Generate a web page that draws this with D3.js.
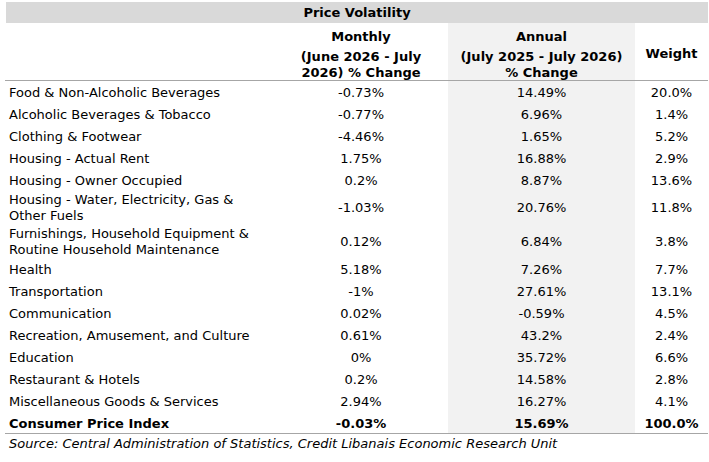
<!DOCTYPE html>
<html>
<head>
<meta charset="utf-8">
<script src="https://cdn.jsdelivr.net/npm/d3@7"></script>
<style>
  body { margin: 0; background: #fff; }
  text { font-family: "DejaVu Sans", Verdana, sans-serif; font-size: 13px; fill: #000; }
</style>
</head>
<body>
<div class="canvas"></div>
<script>
// table data
const title = 'Price Volatility';
const categories = [
  'Food & Non-Alcoholic Beverages',
  'Alcoholic Beverages & Tobacco',
  'Clothing & Footwear',
  'Housing - Actual Rent',
  'Housing - Owner Occupied',
  'Housing - Water, Electricity, Gas & Other Fuels',
  'Furnishings, Household Equipment & Routine Household Maintenance',
  'Health',
  'Transportation',
  'Communication',
  'Recreation, Amusement, and Culture',
  'Education',
  'Restaurant & Hotels',
  'Miscellaneous Goods & Services',
  'Consumer Price Index'
];
const monthly = [-0.73, -0.77, -4.46, 1.75, 0.2, -1.03, 0.12, 5.18, -1, 0.02, 0.61, 0, 0.2, 2.94, -0.03];
const annual = [14.49, 6.96, 1.65, 16.88, 8.87, 20.76, 6.84, 7.26, 27.61, -0.59, 43.2, 35.72, 14.58, 16.27, 15.69];
const weights = [20.0, 1.4, 5.2, 2.9, 13.6, 11.8, 3.8, 7.7, 13.1, 4.5, 2.4, 6.6, 2.8, 4.1, 100.0];
const headers = [
  ['Monthly', '(June 2026 - July', '2026) % Change'],
  ['Annual', '(July 2025 - July 2026)', '% Change'],
  ['Weight']
];
const source = 'Source: Central Administration of Statistics, Credit Libanais Economic Research Unit';

const width = 709, height = 462;

const svg = d3.select('.canvas')
  .append('svg')
  .attr('width', width)
  .attr('height', height);

// column edges: label, monthly, annual, weight
const colEdges = [6, 274, 448, 635, 708];
const colMid = i => (colEdges[i + 1] + colEdges[i + 2]) / 2;

const titleTop = 2, titleBottom = 23, headerBottom = 80.5;
const rowH = 22, lineH = 16, extraLine = 11.5, labelX = 9, labelMax = 262;

// wrap label text to the label column width
const measure = svg.append('text').attr('visibility', 'hidden');
const wrap = (str) => {
  const words = str.split(' ');
  const lines = [];
  let cur = '';
  words.forEach(w => {
    const test = cur ? cur + ' ' + w : w;
    measure.text(test);
    if (cur && measure.node().getComputedTextLength() > labelMax - labelX) {
      lines.push(cur);
      cur = w;
    } else {
      cur = test;
    }
  });
  lines.push(cur);
  return lines;
};

const rows = categories.map((c, i) => ({
  lines: wrap(c),
  monthly: monthly[i],
  annual: annual[i],
  weight: weights[i],
  total: i === categories.length - 1
}));
measure.remove();

// row positions from line counts
let yPos = headerBottom + 0.5;
rows.forEach(r => {
  r.h = rowH + (r.lines.length - 1) * extraLine;
  r.y = yPos;
  yPos += r.h;
});
const tableBottom = Math.round(yPos) - 0.5;

// backgrounds
svg.append('rect')
  .attr('x', colEdges[0]).attr('y', titleTop)
  .attr('width', colEdges[4] - colEdges[0]).attr('height', titleBottom - titleTop)
  .attr('fill', '#d9d9d9');

svg.append('rect')
  .attr('x', colEdges[2]).attr('y', titleBottom)
  .attr('width', colEdges[3] - colEdges[2]).attr('height', tableBottom - titleBottom)
  .attr('fill', '#f2f2f2');

// title
svg.append('text')
  .attr('x', (colEdges[0] + colEdges[4]) / 2)
  .attr('y', (titleTop + titleBottom) / 2)
  .attr('dy', '0.36em')
  .attr('text-anchor', 'middle')
  .attr('font-weight', 'bold')
  .text(title);

// headers
const headerLineY = [36.5, 56.5, 72.5];
headers.forEach((h, i) => {
  const g = svg.append('text')
    .attr('text-anchor', 'middle')
    .attr('font-weight', 'bold');
  if (h.length === 1) {
    g.attr('x', colMid(i)).attr('y', 53).attr('dy', '0.36em').text(h[0]);
  } else {
    g.selectAll('tspan').data(h).enter().append('tspan')
      .attr('x', colMid(i))
      .attr('y', (d, j) => headerLineY[j])
      .attr('dy', '0.36em')
      .text(d => d);
  }
});

// rule lines
[headerBottom, tableBottom].forEach(y => {
  svg.append('line')
    .attr('x1', 5).attr('x2', colEdges[4])
    .attr('y1', y).attr('y2', y)
    .attr('stroke', '#a6a6a6')
    .attr('stroke-width', 1);
});

// body rows
const rowG = svg.selectAll('g.row').data(rows).enter()
  .append('g')
  .attr('class', 'row')
  .attr('transform', d => `translate(0, ${d.y + d.h / 2})`)
  .attr('font-weight', d => d.total ? 'bold' : 'normal');

rowG.append('text')
  .attr('x', labelX)
  .selectAll('tspan')
  .data(d => d.lines.map((l, j) => ({ l, off: (j - (d.lines.length - 1) / 2) * lineH })))
  .enter().append('tspan')
  .attr('x', labelX)
  .attr('y', d => d.off)
  .attr('dy', '0.36em')
  .text(d => d.l);

const cells = [d => d.monthly + '%', d => d.annual + '%', d => d.weight.toFixed(1) + '%'];
cells.forEach((f, i) => {
  rowG.append('text')
    .attr('x', colMid(i))
    .attr('dy', '0.36em')
    .attr('text-anchor', 'middle')
    .text(f);
});

// source
svg.append('text')
  .attr('x', labelX)
  .attr('y', tableBottom + 9.5)
  .attr('dy', '0.36em')
  .attr('font-style', 'italic')
  .text(source);
</script>
</body>
</html>
